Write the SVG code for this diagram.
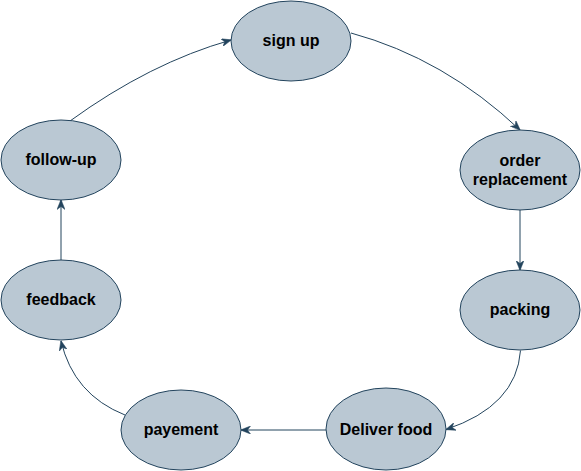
<svg xmlns="http://www.w3.org/2000/svg" width="581" height="471" viewBox="0 0 581 471">
<style>
.node ellipse{fill:#bac8d3;stroke:#23445d;stroke-width:1}
.node text{font-family:"Liberation Sans",Arial,sans-serif;font-weight:bold;font-size:16px;fill:#000;text-anchor:middle}
.edge{fill:none;stroke:#23445d;stroke-width:1}
</style>
<defs>
<marker id="arr" viewBox="0 0 10 8" refX="9.5" refY="4" markerWidth="10" markerHeight="8" markerUnits="userSpaceOnUse" orient="auto">
<path d="M0,0 L10,4 L0,8 L3,4 Z" fill="#23445d" stroke="#23445d" stroke-width="0.5"/>
</marker>
</defs>
<rect width="581" height="471" fill="#ffffff"/>
<g id="connectors">
<path class="edge" d="M351,33 Q444.5,58.5 520,130" marker-end="url(#arr)"/>
<path class="edge" d="M520,210 L520,270" marker-end="url(#arr)"/>
<path class="edge" d="M520.5,350.5 Q516.6,406 446,429.5" marker-end="url(#arr)"/>
<path class="edge" d="M326,430 L241,430" marker-end="url(#arr)"/>
<path class="edge" d="M125,415 Q73.6,394.6 61,341" marker-end="url(#arr)"/>
<path class="edge" d="M61,260 L61,200" marker-end="url(#arr)"/>
<path class="edge" d="M70,121 Q150,62.9 231,40" marker-end="url(#arr)"/>
</g>
<g id="signup" class="node"><ellipse cx="291" cy="41" rx="60" ry="40"/><text x="291" y="46">sign up</text></g>
<g id="order" class="node"><ellipse cx="520" cy="170" rx="60" ry="40"/><text x="520" y="166">order</text><text x="520" y="185">replacement</text></g>
<g id="packing" class="node"><ellipse cx="520" cy="310" rx="60" ry="40"/><text x="520" y="315">packing</text></g>
<g id="deliver" class="node"><ellipse cx="386" cy="429" rx="60" ry="41"/><text x="386" y="435">Deliver food</text></g>
<g id="payement" class="node"><ellipse cx="181" cy="430" rx="60" ry="40"/><text x="181" y="435">payement</text></g>
<g id="feedback" class="node"><ellipse cx="61" cy="300" rx="60" ry="40"/><text x="61" y="305">feedback</text></g>
<g id="followup" class="node"><ellipse cx="61" cy="160" rx="60" ry="40"/><text x="61" y="165">follow-up</text></g>
</svg>
